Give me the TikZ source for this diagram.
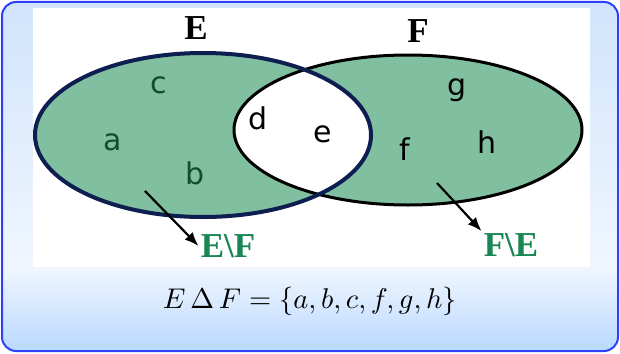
\documentclass[tikz,border=0pt]{standalone}
\usepackage{fontspec}
\usepackage{amsmath}
\usepackage{tikz}
\usepackage{xcolor}
\usetikzlibrary{arrows.meta}
\newfontfamily\lblfont{DejaVu Sans}
\newfontfamily\setfont{Liberation Serif}
\definecolor{boxblue}{RGB}{45,65,250}
\definecolor{skytop}{RGB}{208,228,252}
\definecolor{skymid}{RGB}{240,246,254}
\definecolor{skybot}{RGB}{184,216,255}
\definecolor{setgreen}{RGB}{128,191,160}
\definecolor{inknavy}{RGB}{14,30,80}
\definecolor{leafdark}{RGB}{16,78,46}
\definecolor{diffgreen}{RGB}{26,134,84}

\begin{document}
\begin{tikzpicture}[x=1pt,y=-1pt,
    elem/.style={font=\lblfont\fontsize{30}{32}\selectfont, inner sep=0pt},
    setname/.style={font=\setfont\bfseries\fontsize{35}{37}\selectfont, inner sep=2pt},
    pointer/.style={line width=2.2pt, -{Latex[length=14pt,width=11pt]}}]
  \useasboundingbox (0,0) rectangle (620,353);
  % frame and picture area
  \begin{scope}
    \clip[rounded corners=14pt] (2,2) rectangle (618,351);
    \shade[top color=skytop, bottom color=skymid] (0,0) rectangle (620,268);
    \shade[top color=skymid, bottom color=skybot] (0,268) rectangle (620,353);
  \end{scope}
  \draw[boxblue, line width=2pt, rounded corners=14pt] (2,2) rectangle (618,351);
  \fill[white] (33,8) rectangle (590,267);
  % the two sets
  \coordinate (cE) at (203,135);
  \coordinate (cF) at (408,130);
  \fill[setgreen] (cE) ellipse [x radius=168, y radius=82];
  \fill[setgreen] (cF) ellipse [x radius=174, y radius=75];
  \begin{scope}
    \clip (cE) ellipse [x radius=168, y radius=82];
    \fill[white] (cF) ellipse [x radius=174, y radius=75];
  \end{scope}
  \draw[black, line width=3pt] (cF) ellipse [x radius=174, y radius=75];
  \draw[inknavy, line width=4pt] (cE) ellipse [x radius=168, y radius=82];
  % elements
  \node[elem, text=leafdark] (c) at (159,85) {c};
  \node[elem, text=leafdark] (a) at (113,142) {a};
  \node[elem, text=leafdark] (b) at (195,173) {b};
  \node[elem] (d) at (258,118) {d};
  \node[elem] (e) at (323,134) {e};
  \node[elem] (f) at (405,149) {f};
  \node[elem] (g) at (457,90) {g};
  \node[elem] (h) at (487,142) {h};
  % names
  \node[setname] (E) at (196,28) {E};
  \node[setname] (F) at (418,31) {F};
  \node[setname, text=diffgreen] (EmF) at (228,246) {E\textbackslash F};
  \node[setname, text=diffgreen] (FmE) at (511,245) {F\textbackslash E};
  \coordinate (pE) at (145,191);
  \coordinate (pF) at (437,183);
  \draw[pointer] (pE) -- (EmF.west);
  \draw[pointer] (pF) -- (FmE.north west);
  % formula
  \node[scale=2.85] (sym) at (310,301) {$E\,\Delta\,F=\{a,b,c,f,g,h\}$};
\end{tikzpicture}
\end{document}
